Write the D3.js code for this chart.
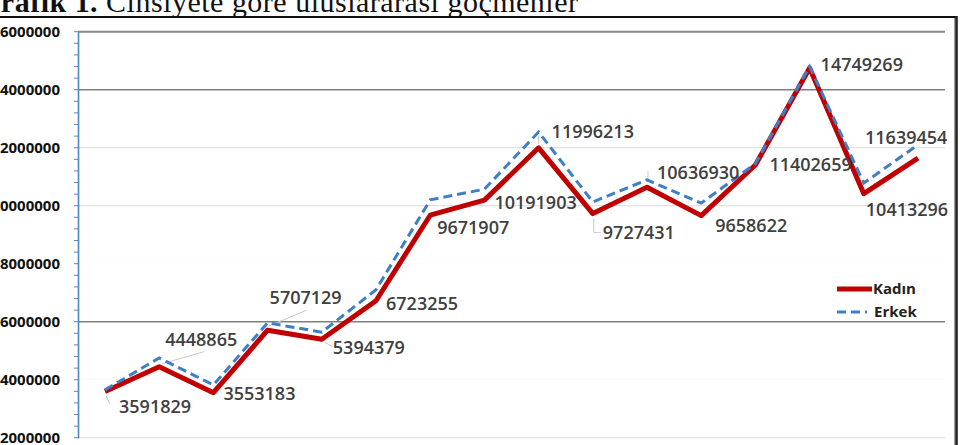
<!DOCTYPE html>
<html>
<head>
<meta charset="utf-8">
<script src="https://cdn.jsdelivr.net/npm/d3@7"></script>
<style>
  html, body { margin: 0; padding: 0; background: #fff; }
  svg { display: block; }
</style>
</head>
<body>
<svg id="chart" width="960" height="445"></svg>
<script>
// ---- data ----
const categories = ["1","2","3","4","5","6","7","8","9","10","11","12","13","14","15","16"];
const kadin = [3591829, 4448865, 3553183, 5707129, 5394379, 6723255, 9671907, 10191903,
               11996213, 9727431, 10636930, 9658622, 11402659, 14749269, 10413296, 11639454];
const erkek = [3650000, 4750000, 3820000, 5960000, 5640000, 7100000, 10200000, 10570000,
               12540000, 10130000, 10890000, 10090000, 11450000, 14800000, 10780000, 12100000];
const yTicks = [2000000, 4000000, 6000000, 8000000, 10000000, 12000000, 14000000, 16000000];
const seriesNames = ["Kadın", "Erkek"];
const titleBold = "Grafik 1.";
const titleRest = " Cinsiyete göre uluslararası göçmenler";

// ---- layout (not data) ----
const labelOffsets = [[14,15],[6,-27],[10,1],[2,-33],[11,8],[10,3],[7,12],[10,2],
                      [13,-16],[10,19],[10,-15],[14,10],[14,-1],[11,-3],[2,16],[-53,-21]];
const leaders = {
  0: [[1,4],[5,13]],
  1: [[3,-3],[45,-15]],
  3: [[1,-4],[39,-20]],
  4: [[3,3],[10,7]],
  8: [[0,-4],[0,-12]],
  9: [[1,5],[1,19],[8,19]],
  10: [[1,-6],[1,-16]]
};

const svg = d3.select("#chart");

const x = d3.scalePoint().domain(categories).range([105, 918]);
const y = d3.scaleLinear().domain([2000000, 16000000]).range([437.7, 31.7]);

// title
const title = svg.append("text")
  .attr("x", -23).attr("y", 12)
  .attr("font-family", "Liberation Serif, serif")
  .attr("font-size", 30)
  .attr("fill", "#111")
  .attr("textLength", 601).attr("lengthAdjust", "spacing");
title.append("tspan").attr("font-weight", "bold").text(titleBold);
title.append("tspan").text(titleRest);

// outer frame
svg.append("line").attr("x1", 0).attr("x2", 957).attr("y1", 17).attr("y2", 17)
  .attr("stroke", "#111").attr("stroke-width", 2.2);
svg.append("line").attr("x1", 956.5).attr("x2", 956.5).attr("y1", 16).attr("y2", 445)
  .attr("stroke", "#222").attr("stroke-width", 2.6);
svg.append("line").attr("x1", 954.5).attr("x2", 954.5).attr("y1", 18).attr("y2", 445)
  .attr("stroke", "#9a9a9a").attr("stroke-width", 1);

// gridlines
const gridStyle = v => {
  if (v === 16000000) return {c: "#8a8a8a", w: 2};
  if (v === 14000000 || v === 6000000) return {c: "#7f7f7f", w: 1.5};
  if (v === 8000000 || v === 4000000) return {c: "#fbfbfb", w: 1};
  return {c: "#e2e2e2", w: 1.2};
};
svg.append("g").selectAll("line").data(yTicks).join("line")
  .attr("x1", 78).attr("x2", 945)
  .attr("y1", d => y(d)).attr("y2", d => y(d))
  .attr("stroke", d => gridStyle(d).c)
  .attr("stroke-width", d => gridStyle(d).w);

// y axis
const yAxis = d3.axisLeft(y).tickValues(yTicks).tickSize(0).tickPadding(18)
  .tickFormat(d3.format("d"));
const gy = svg.append("g").attr("transform", "translate(78,0)").call(yAxis);
gy.select(".domain").attr("stroke", "#4f86c6").attr("stroke-width", 1.6);
gy.selectAll("text")
  .attr("font-family", "Open Sans, sans-serif")
  .attr("font-weight", 700)
  .attr("font-size", 15)
  .attr("fill", "#111");
// minor ticks
svg.append("g").selectAll("line").data(d3.range(2000000, 16000001, 400000)).join("line")
  .attr("x1", 74).attr("x2", 78)
  .attr("y1", d => y(d)).attr("y2", d => y(d))
  .attr("stroke", "#4f86c6").attr("stroke-width", 1);

// lines
const lineGen = d3.line()
  .x((d, i) => x(categories[i]))
  .y(d => y(d));

// leader lines
const lg = svg.append("g");
Object.keys(leaders).forEach(k => {
  const i = +k;
  const px = x(categories[i]), py = y(kadin[i]);
  lg.append("polyline")
    .attr("points", leaders[k].map(p => [px + p[0], py + p[1]].join(",")).join(" "))
    .attr("fill", "none").attr("stroke", "#c8c8c8").attr("stroke-width", 1);
});

svg.append("path").datum(kadin)
  .attr("d", lineGen)
  .attr("fill", "none")
  .attr("stroke", "#c00000")
  .attr("stroke-width", 5)
  .attr("stroke-linejoin", "round");

svg.append("path").datum(erkek)
  .attr("d", lineGen)
  .attr("fill", "none")
  .attr("stroke", "#3f7fc8")
  .attr("stroke-width", 3)
  .attr("stroke-dasharray", "9,5");

// data labels
svg.append("g").selectAll("text").data(kadin).join("text")
  .attr("x", (d, i) => x(categories[i]) + labelOffsets[i][0])
  .attr("y", (d, i) => y(d) + labelOffsets[i][1])
  .attr("dy", "0.36em")
  .attr("font-family", "Open Sans, sans-serif")
  .attr("font-weight", 600)
  .attr("font-size", 18)
  .attr("fill", "#404040")
  .text(d => d);

// legend
const legend = svg.append("g");
legend.append("line").attr("x1", 837).attr("x2", 872).attr("y1", 289).attr("y2", 289)
  .attr("stroke", "#c00000").attr("stroke-width", 5);
legend.append("line").attr("x1", 837).attr("x2", 867).attr("y1", 312).attr("y2", 312)
  .attr("stroke", "#3f7fc8").attr("stroke-width", 3).attr("stroke-dasharray", "9,5");
legend.selectAll("text").data(seriesNames).join("text")
  .attr("x", (d, i) => i === 0 ? 873 : 874)
  .attr("y", (d, i) => i === 0 ? 289 : 312)
  .attr("dy", "0.36em")
  .attr("font-family", "Open Sans, sans-serif")
  .attr("font-weight", 700)
  .attr("font-size", 15)
  .attr("fill", "#222")
  .text(d => d);
</script>
</body>
</html>
